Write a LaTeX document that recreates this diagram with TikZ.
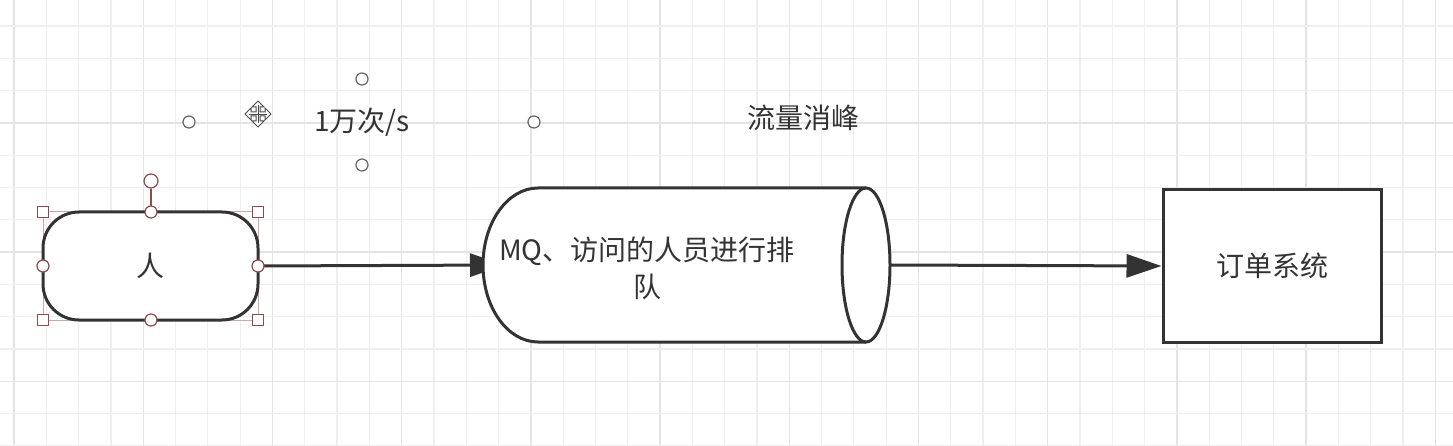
\documentclass[tikz,border=0pt]{standalone}
\usepackage{fontspec}
\setmainfont{Noto Sans CJK SC}
\usetikzlibrary{arrows.meta}
\definecolor{ink}{HTML}{333333}
\definecolor{gridminor}{HTML}{EFEFEF}
\definecolor{gridmajor}{HTML}{E4E4E4}
\definecolor{selred}{HTML}{8E4B4B}
\definecolor{selpink}{HTML}{CDA8A8}
\begin{document}
\begin{tikzpicture}[x=1pt,y=-1pt,
  txt/.style={text=ink, font=\fontsize{28}{37}\selectfont},
  shapebox/.style={draw=ink, line width=3pt, fill=white},
  conn/.style={draw=ink, line width=3pt, -{Triangle[length=35pt,width=23pt]}},
  sqhandle/.style={draw=selred, fill=white, line width=1.2pt, minimum size=11pt, inner sep=0pt, rectangle},
  cihandle/.style={draw=selred, fill=white, line width=1.2pt, minimum size=12pt, inner sep=0pt, circle},
  txthandle/.style={draw=black!60, fill=white, line width=1.2pt, minimum size=12pt, inner sep=0pt, circle}]
\useasboundingbox (0,0) rectangle (1453,446);
\fill[white] (0,0) rectangle (1453,446);
% grid
\foreach \k in {0,...,44} {
  \pgfmathsetmacro\xx{14+32.3*\k}
  \pgfmathtruncatemacro\m{mod(\k,4)}
  \ifnum\m=0
    \draw[gridmajor, line width=1.4pt] (\xx,0) -- (\xx,446);
  \else
    \draw[gridminor, line width=1.2pt] (\xx,0) -- (\xx,446);
  \fi
}
\foreach \k in {0,...,13} {
  \pgfmathsetmacro\yy{26+32.3*\k}
  \pgfmathtruncatemacro\m{mod(\k,4)}
  \ifnum\m=3
    \draw[gridmajor, line width=1.4pt] (0,\yy) -- (1453,\yy);
  \else
    \draw[gridminor, line width=1.2pt] (0,\yy) -- (1453,\yy);
  \fi
}
% selection frame of the person node (behind it)
\draw[selpink, line width=1pt] (43,212) rectangle (258,320);
% nodes
\node[shapebox, rounded corners=36pt, minimum width=215pt, minimum height=108pt, inner sep=0pt, txt] (person) at (150.5,266) {人};
\node[minimum width=407pt, minimum height=154pt, inner sep=0pt, outer sep=0pt] (mq) at (686.5,265) {};
\node[shapebox, minimum width=218pt, minimum height=152pt, inner sep=0pt, txt] (order) at (1272,266) {订单系统};
% connector into the queue (its tip is hidden under the queue body)
\draw[conn] (person.east) -- ([xshift=22pt]mq.west);
% queue body drawn over the arrow tip
\fill[white] (866,188) -- (538,188) arc[start angle=90, end angle=270, x radius=55pt, y radius=77pt]
  -- (866,342) arc[start angle=-90, end angle=90, x radius=24pt, y radius=77pt] -- cycle;
\draw[ink, line width=3pt] (866,188) -- (538,188) arc[start angle=90, end angle=270, x radius=55pt, y radius=77pt] -- (866,342);
\draw[ink, line width=3pt] (866,265) ellipse [x radius=24pt, y radius=77pt];
\node[txt, align=center] (mqtext) at (647,268) {MQ、访问的人员进行排\\队};
\draw[conn] (mq.east) -- (order.west);
% free labels
\node[txt] (rate) at (362,122) {1万次/s};
\node[txt] (peak) at (803,118) {流量消峰};
% text selection handles
\node[txthandle] (rt) at (362,79) {};
\node[txthandle] (rb) at (362,165) {};
\node[txthandle] (rl) at (189,122) {};
\node[txthandle] (rr) at (534,122) {};
% handles of the person node
\node[cihandle, minimum size=14pt] (rot) at (151,181) {};
\draw[selred, line width=1.2pt] (rot.south) -- (151,212);
\node[sqhandle] (s1) at (43,212) {};
\node[sqhandle] (s2) at (258,212) {};
\node[sqhandle] (s3) at (43,320) {};
\node[sqhandle] (s4) at (258,320) {};
\node[cihandle] (c1) at (151,212) {};
\node[cihandle] (c2) at (151,320) {};
\node[cihandle] (c3) at (43,266) {};
\node[cihandle] (c4) at (258,266) {};
% move cursor
\draw[black!70, fill=white, line width=1pt, shift={(258,114)}]
  (0,-13) -- (6,-7) -- (2,-7) -- (2,-2) -- (7,-2) -- (7,-6) -- (13,0) -- (7,6) -- (7,2) -- (2,2)
  -- (2,7) -- (6,7) -- (0,13) -- (-6,7) -- (-2,7) -- (-2,2) -- (-7,2) -- (-7,6) -- (-13,0)
  -- (-7,-6) -- (-7,-2) -- (-2,-2) -- (-2,-7) -- (-6,-7) -- cycle;
\draw[black!70, line width=0.8pt, shift={(258,114)}] (0,-9) -- (0,9) (-9,0) -- (9,0);
\end{tikzpicture}
\end{document}
